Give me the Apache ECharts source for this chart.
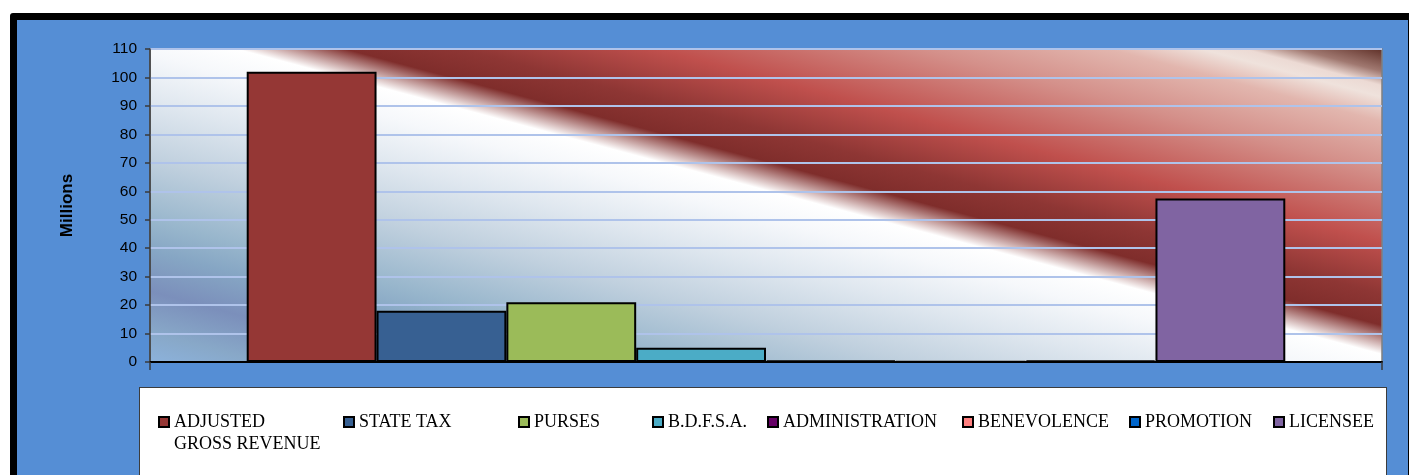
<!DOCTYPE html>
<html>
<head>
<meta charset="utf-8">
<script src="https://cdn.jsdelivr.net/npm/echarts@6/dist/echarts.min.js"></script>
<style>
  html, body { margin: 0; padding: 0; background: #ffffff; }
  #wrap { position: relative; width: 1409px; height: 475px; overflow: hidden; background: #ffffff; }
  #frame { position: absolute; left: 10px; top: 13px; width: 1399px; height: 470px; background: #000000; border-top-left-radius: 3px; }
  #blue { position: absolute; left: 17px; top: 20px; width: 1391px; height: 460px; background: #558ED5; }
  #legbox { position: absolute; left: 139px; top: 387px; width: 1248px; height: 100px; background: #ffffff; border: 1.5px solid #3c3c3c; box-sizing: border-box; }
  #chart { position: absolute; left: 0; top: 0; width: 1409px; height: 475px; }
</style>
</head>
<body>
<div id="wrap">
  <div id="frame"></div>
  <div id="blue"></div>
  <div id="legbox"></div>
  <div id="chart"></div>
</div>
<script>
// ---- data ----
const categories = [''];
const seriesNames = ['ADJUSTED GROSS REVENUE', 'STATE TAX', 'PURSES', 'B.D.F.S.A.', 'ADMINISTRATION', 'BENEVOLENCE', 'PROMOTION', 'LICENSEE'];
const seriesValues = [102, 18, 21, 5, 0.5, 0.1, 0.5, 57.5];
const yAxisMin = 0;
const yAxisMax = 110;
const yAxisStep = 10;
const yAxisTitle = 'Millions';

// ---- styles / layout ----
const seriesColors = ['#953735', '#376092', '#9BBB59', '#4BACC6', '#660066', '#FF8080', '#0066CC', '#8064A2'];
const legendLeft = [158, 343, 518, 652, 767, 962, 1129, 1273];

const plotBg = {
  type: 'linear', x: 0, y: 1, x2: 0.13, y2: -0.913,
  colorStops: [
    { offset: 0.000, color: '#8cb2dc' },
    { offset: 0.048, color: '#88a8c8' },
    { offset: 0.111, color: '#7b8fbb' },
    { offset: 0.174, color: '#86a6c4' },
    { offset: 0.221, color: '#98b6cc' },
    { offset: 0.316, color: '#c0d0de' },
    { offset: 0.406, color: '#dfe7ef' },
    { offset: 0.479, color: '#f6f8fb' },
    { offset: 0.523, color: '#ffffff' },
    { offset: 0.568, color: '#7f2d2b' },
    { offset: 0.616, color: '#8e3634' },
    { offset: 0.697, color: '#c0504d' },
    { offset: 0.806, color: '#d4908a' },
    { offset: 0.884, color: '#e2b6ae' },
    { offset: 0.922, color: '#efe2dc' },
    { offset: 0.940, color: '#ecdad4' },
    { offset: 0.962, color: '#a07870' },
    { offset: 1.000, color: '#5a2a22' }
  ]
};

const chart = echarts.init(document.getElementById('chart'), null, { renderer: 'canvas' });

const legends = seriesNames.map((name, i) => {
  const multi = name === 'ADJUSTED GROSS REVENUE';
  return {
    data: [name],
    left: legendLeft[i],
    top: multi ? 389 : 411,
    padding: 0,
    itemWidth: 10,
    itemHeight: 10,
    itemGap: 0,
    icon: 'rect',
    selectedMode: false,
    formatter: multi ? '\nADJUSTED\nGROSS REVENUE' : '{name}',
    itemStyle: { borderColor: '#000', borderWidth: 2 },
    textStyle: { fontFamily: 'Liberation Serif', fontSize: 18, color: '#000', lineHeight: 22 }
  };
});

const series = seriesNames.map((name, i) => ({
  name: name,
  type: 'bar',
  data: [seriesValues[i]],
  barGap: '0%',
  barCategoryGap: '15.7%',
  itemStyle: { color: seriesColors[i], borderColor: '#000', borderWidth: 2 },
  emphasis: { disabled: true }
}));

chart.setOption({
  animation: false,
  backgroundColor: 'transparent',
  grid: {
    left: 150, right: 27, top: 49, bottom: 113,
    show: true,
    backgroundColor: plotBg,
    borderColor: '#808080',
    borderWidth: 1.5
  },
  legend: legends,
  xAxis: {
    type: 'category',
    data: categories,
    axisLine: { show: true, lineStyle: { color: '#000', width: 2 } },
    axisTick: { show: true, length: 8, lineStyle: { color: '#3a3a3a', width: 1.5 } },
    axisLabel: { show: false },
    splitLine: { show: false }
  },
  yAxis: {
    type: 'value',
    min: yAxisMin, max: yAxisMax, interval: yAxisStep,
    name: yAxisTitle,
    nameLocation: 'middle',
    nameGap: 74,
    nameTextStyle: { fontFamily: 'Liberation Sans', fontSize: 17, fontWeight: 'bold', color: '#000' },
    axisLine: { show: true, lineStyle: { color: '#3a3a3a', width: 1.5 } },
    axisTick: { show: true, length: 5, lineStyle: { color: '#3a3a3a', width: 1.5 } },
    axisLabel: { margin: 13, fontFamily: 'Liberation Sans', fontSize: 15.5, color: '#000' },
    splitLine: { show: true, lineStyle: { color: '#afc3ea', width: 2 } }
  },
  series: series
});
</script>
</body>
</html>
